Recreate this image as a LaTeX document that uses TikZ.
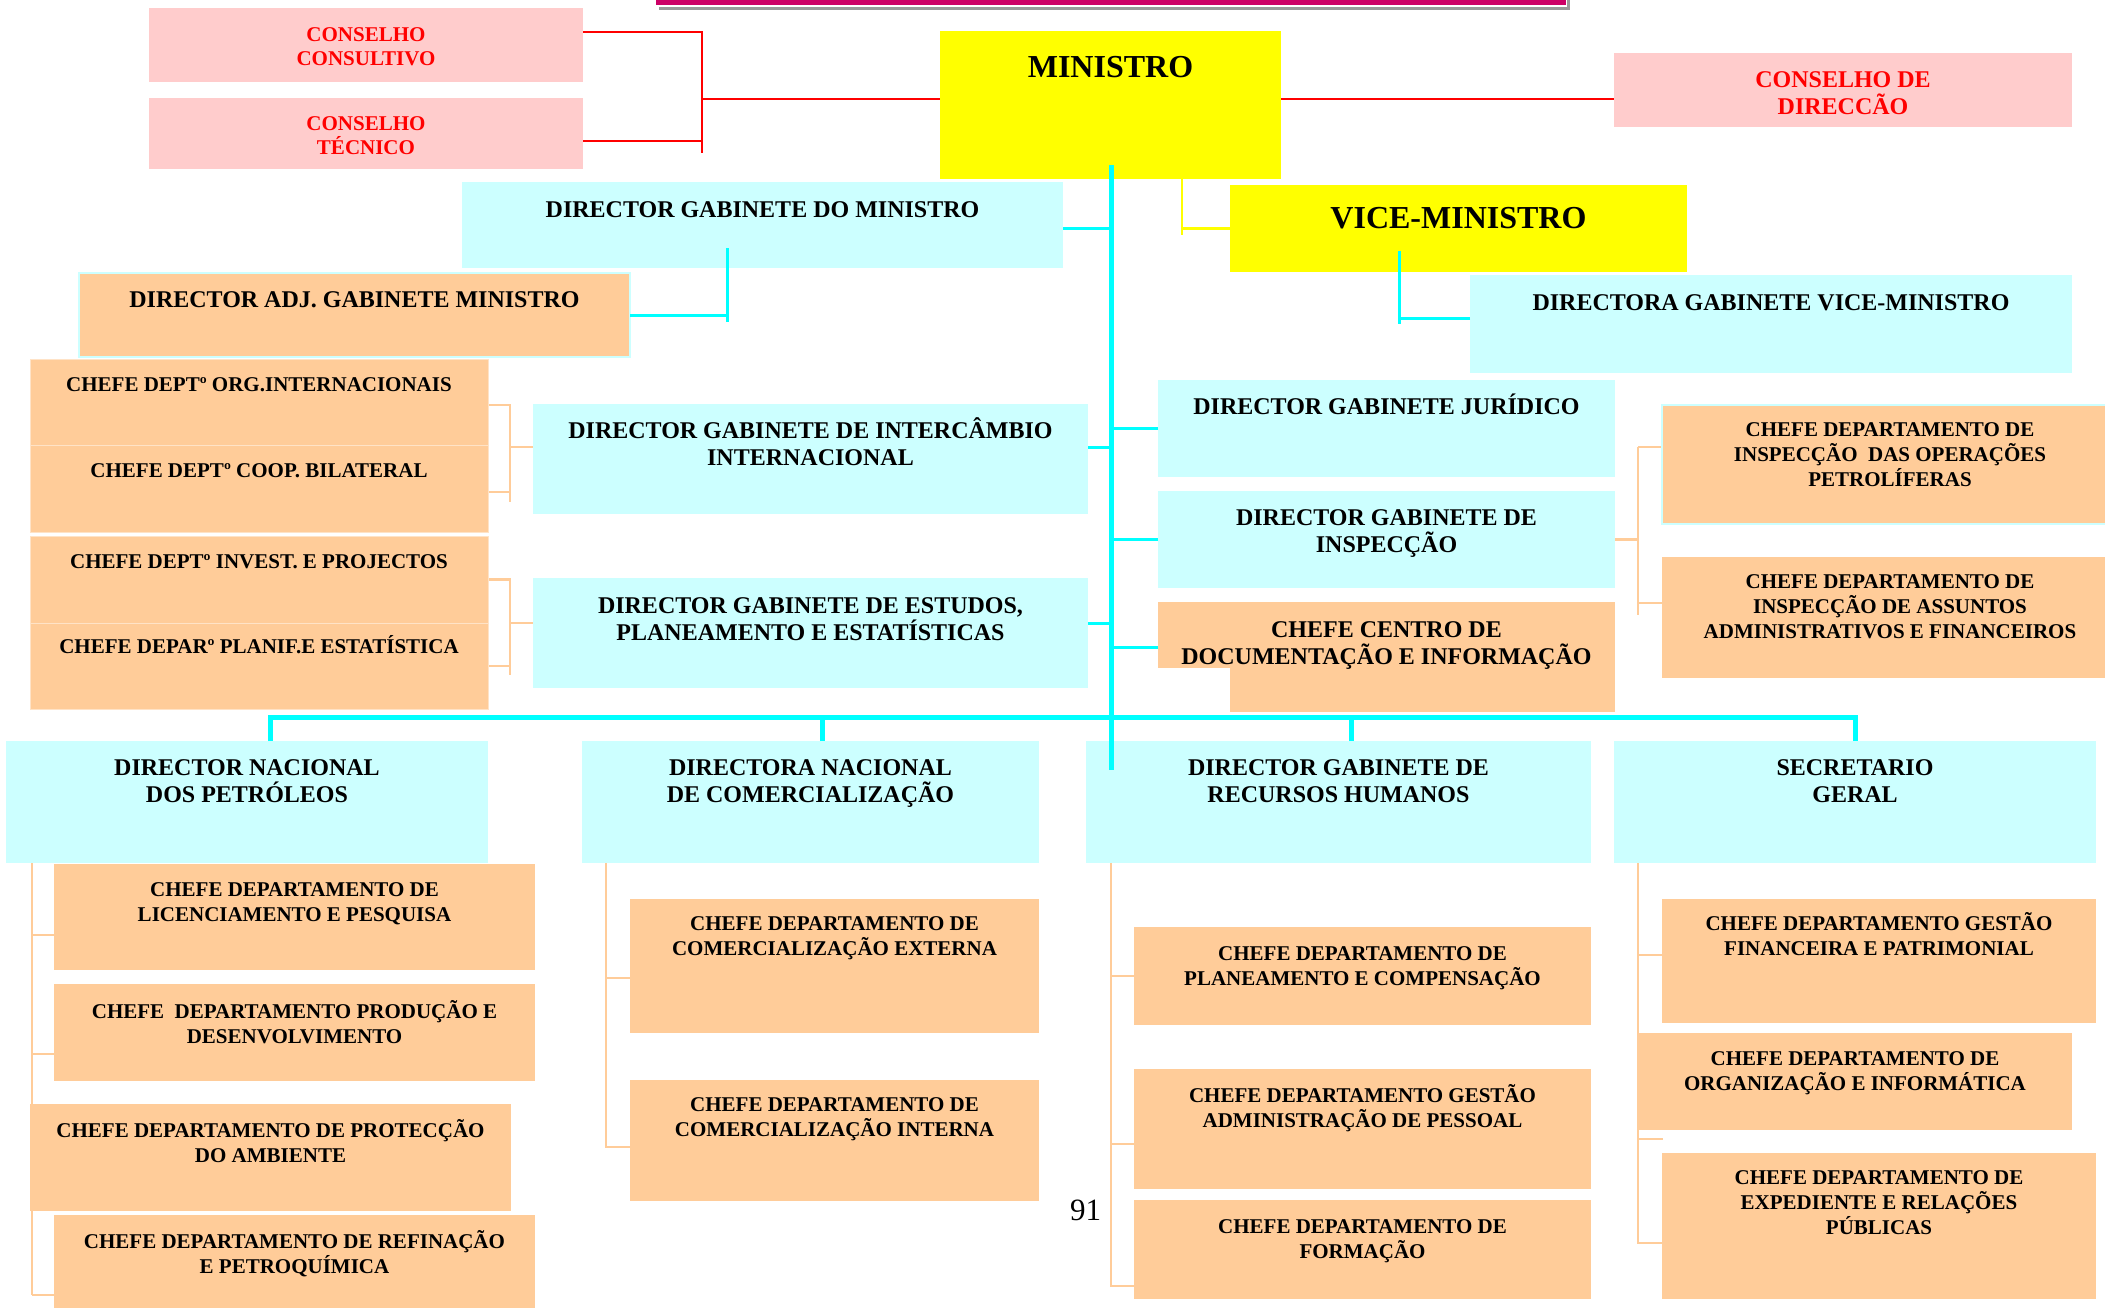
\documentclass[tikz,border=0pt]{standalone}
\usepackage{fontspec}
\setmainfont{Liberation Serif}
\pgfdeclarelayer{bg}
\pgfsetlayers{bg,main}
\definecolor{boxcyan}{HTML}{CCFFFF}
\definecolor{boxorange}{HTML}{FFCC99}
\definecolor{boxpink}{HTML}{FFCCCC}
\definecolor{boxyellow}{HTML}{FFFF00}
\definecolor{textred}{HTML}{FF0000}
\definecolor{linecyan}{HTML}{00FFFF}
\definecolor{barmag}{HTML}{CC0066}
\definecolor{shadowgrey}{HTML}{999999}
\newcommand\bt[4]{\parbox[t][#2pt][t]{#1pt}{\centering\rule{0pt}{#3pt}#4\par}}
\begin{document}
\begin{tikzpicture}[x=1pt,y=-1pt,
  bxbase/.style={anchor=north west, inner sep=0pt, outer sep=0pt},
  cbox/.style={bxbase, fill=boxcyan, font=\fontsize{24}{27.5}\selectfont\bfseries},
  obox/.style={bxbase, fill=boxorange, font=\fontsize{21}{25}\selectfont\bfseries},
  obig/.style={bxbase, fill=boxorange, font=\fontsize{24}{27.5}\selectfont\bfseries},
  pbox/.style={bxbase, fill=boxpink, text=textred, font=\fontsize{21}{24}\selectfont\bfseries},
  pbig/.style={bxbase, fill=boxpink, text=textred, font=\fontsize{24}{27}\selectfont\bfseries},
  ybox/.style={bxbase, fill=boxyellow, font=\fontsize{32}{36}\selectfont\bfseries},
  sep/.style={draw=white!45!boxorange, line width=1pt},
  cline/.style={draw=linecyan, line width=3pt},
  trunk/.style={draw=linecyan, line width=5pt},
  oline/.style={draw=boxorange, line width=2.5pt},
  rline/.style={draw=textred, line width=2.5pt},
  yline/.style={draw=boxyellow, line width=2.5pt}]
\useasboundingbox (0,0) rectangle (2105,1307);
\clip (0,0) rectangle (2105,1307);
% top bar
\fill[shadowgrey] (659,6.5) rectangle (1570,9.5);
\fill[shadowgrey] (1567,-5) rectangle (1570,9.5);
\fill[barmag] (656,-5) rectangle (1566,5);

% boxes
\node[pbox] (cc) at (149,8) {\bt{434}{74}{33}{CONSELHO\\CONSULTIVO}};
\node[pbox] (ct) at (149,98) {\bt{434}{71}{32}{CONSELHO\\TÉCNICO}};
\node[pbig] (cd) at (1614,53) {\bt{458}{74}{34}{CONSELHO DE\\DIRECCÃO}};
\node[ybox] (min) at (940,31) {\bt{341}{148}{46}{MINISTRO}};
\node[ybox] (vm) at (1230,185) {\bt{457}{87}{43}{VICE-MINISTRO}};
\node[cbox] (dgm) at (462,182) {\bt{601}{86}{35}{DIRECTOR GABINETE DO MINISTRO}};
\node[obig, draw=boxcyan, line width=1.5pt] (adj) at (79,273) {\bt{551}{84}{34}{DIRECTOR ADJ. GABINETE MINISTRO}};
\node[cbox] (dvm) at (1470,275) {\bt{602}{98}{35}{DIRECTORA GABINETE VICE-MINISTRO}};
\node[obox, sep] (org) at (30,359) {\bt{458}{86}{32}{CHEFE DEPTº ORG.INTERNACIONAIS}};
\node[obox, sep] (coop) at (30,445) {\bt{458}{87}{32}{CHEFE DEPTº COOP. BILATERAL}};
\node[obox, sep] (invest) at (30,536) {\bt{458}{87}{32}{CHEFE DEPTº INVEST. E PROJECTOS}};
\node[obox, sep] (planif) at (30,623) {\bt{458}{86}{30}{CHEFE DEPARº PLANIF.E ESTATÍSTICA}};
\node[cbox] (inter) at (533,404) {\bt{555}{110}{34}{DIRECTOR GABINETE DE INTERCÂMBIO\\INTERNACIONAL}};
\node[cbox] (estudos) at (533,578) {\bt{555}{110}{35}{DIRECTOR GABINETE DE ESTUDOS,\\PLANEAMENTO E ESTATÍSTICAS}};
\node[cbox] (jur) at (1158,380) {\bt{457}{97}{34}{DIRECTOR GABINETE JURÍDICO}};
\node[cbox] (insp) at (1158,491) {\bt{457}{97}{34}{DIRECTOR GABINETE DE\\INSPECÇÃO}};
\node[obig] (centro) at (1158,602) {\bt{457}{110}{35}{CHEFE CENTRO DE\\DOCUMENTAÇÃO E INFORMAÇÃO}};
\node[obox, draw=boxcyan, line width=1.5pt] (ops) at (1662,405) {\bt{456}{119}{31}{CHEFE DEPARTAMENTO DE\\INSPECÇÃO\ \ DAS OPERAÇÕES\\PETROLÍFERAS}};
\node[obox] (assun) at (1662,557) {\bt{456}{121}{31}{CHEFE DEPARTAMENTO DE\\INSPECÇÃO DE ASSUNTOS\\ADMINISTRATIVOS E FINANCEIROS}};
\node[cbox] (dnp) at (6,741) {\bt{482}{122}{34}{DIRECTOR NACIONAL\\DOS PETRÓLEOS}};
\node[cbox] (dnc) at (582,741) {\bt{457}{122}{34}{DIRECTORA NACIONAL\\DE COMERCIALIZAÇÃO}};
\node[cbox] (drh) at (1086,741) {\bt{505}{122}{34}{DIRECTOR GABINETE DE\\RECURSOS HUMANOS}};
\node[cbox] (sg) at (1614,741) {\bt{482}{122}{34}{SECRETARIO\\GERAL}};
\node[obox] (lic) at (54,864) {\bt{481}{106}{32}{CHEFE DEPARTAMENTO DE\\LICENCIAMENTO E PESQUISA}};
\node[obox] (prod) at (54,984) {\bt{481}{97}{34}{CHEFE\ \ DEPARTAMENTO PRODUÇÃO E\\DESENVOLVIMENTO}};
\node[obox] (prot) at (30,1104) {\bt{481}{107}{33}{CHEFE DEPARTAMENTO DE PROTECÇÃO\\DO AMBIENTE}};
\node[obox] (ref) at (54,1215) {\bt{481}{100}{33}{CHEFE DEPARTAMENTO DE REFINAÇÃO\\E PETROQUÍMICA}};
\node[obox] (cext) at (630,899) {\bt{409}{134}{31}{CHEFE DEPARTAMENTO DE\\COMERCIALIZAÇÃO EXTERNA}};
\node[obox] (cint) at (630,1080) {\bt{409}{121}{31}{CHEFE DEPARTAMENTO DE\\COMERCIALIZAÇÃO INTERNA}};
\node[obox] (plan) at (1134,927) {\bt{457}{98}{33}{CHEFE DEPARTAMENTO DE\\PLANEAMENTO E COMPENSAÇÃO}};
\node[obox] (pess) at (1134,1069) {\bt{457}{120}{33}{CHEFE DEPARTAMENTO GESTÃO\\ADMINISTRAÇÃO DE PESSOAL}};
\node[obox] (form) at (1134,1200) {\bt{457}{99}{33}{CHEFE DEPARTAMENTO DE\\FORMAÇÃO}};
\node[obox] (fin) at (1662,899) {\bt{434}{124}{31}{CHEFE DEPARTAMENTO GESTÃO\\FINANCEIRA E PATRIMONIAL}};
\node[obox] (oi) at (1638,1033) {\bt{434}{97}{32}{CHEFE DEPARTAMENTO DE\\ORGANIZAÇÃO E INFORMÁTICA}};
\node[obox] (exp) at (1662,1153) {\bt{434}{146}{31}{CHEFE DEPARTAMENTO DE\\EXPEDIENTE E RELAÇÕES\\PÚBLICAS}};

% background connectors
\begin{pgfonlayer}{bg}
\coordinate (rj) at (702,32); \coordinate (rk) at (702,153);
\draw[rline] ([yshift=13pt]cc.east) -- (rj) -- (rk);
\draw[rline] ([yshift=-7.5pt]ct.east) -- ([yshift=-7.5pt]ct.east -| rj);
\draw[rline] ([yshift=6pt]min.west) -- ([yshift=6pt]min.west -| rj);
\draw[rline] ([yshift=6pt]min.east) -- ([yshift=6pt]min.east -| cd.west);
\draw[yline] ([xshift=71.5pt]min.south) -- ([xshift=71.5pt,yshift=-56pt]min.south);
\draw[yline] ([xshift=71.5pt]min.south |- vm.west) -- (vm.west);
% intercambio group
\coordinate (ia) at (510,404); \coordinate (ib) at (510,502);
\draw[oline] (ia) -- (ib);
\draw[oline] ([yshift=-3pt]org.east) -- ([yshift=-3pt]org.east -| ia);
\draw[oline] ([yshift=-3.5pt]coop.east) -- ([yshift=-3.5pt]coop.east -| ia);
\draw[oline] ([yshift=12pt]inter.west) -- ([yshift=12pt]inter.west -| ia);
% estudos group
\coordinate (ea) at (510,578); \coordinate (eb) at (510,675);
\draw[oline] (ea) -- (eb);
\draw[oline] (invest.east) -- (invest.east -| ea);
\draw[oline] (planif.east) -- (planif.east -| ea);
\draw[oline] ([yshift=10pt]estudos.west) -- ([yshift=10pt]estudos.west -| ea);
% inspeccao group
\coordinate (sa) at (1638,447); \coordinate (sb) at (1638,615);
\draw[oline] (sa) -- (sb);
\draw[oline] (insp.east) -- (insp.east -| sa);
\draw[oline] ([yshift=17.5pt]ops.west) -- ([yshift=17.5pt]ops.west -| sa);
\draw[oline] ([yshift=14.5pt]assun.west) -- ([yshift=14.5pt]assun.west -| sa);
% DNP group
\coordinate (pa) at (32,859); \coordinate (pb) at (32,1295);
\draw[oline] (pa) -- (pb);
\draw[oline] ([yshift=-18pt]lic.west) -- ([yshift=-18pt]lic.west -| pa);
\draw[oline] ([yshift=-21.5pt]prod.west) -- ([yshift=-21.5pt]prod.west -| pa);
\draw[oline] ([yshift=-30pt]ref.west) -- ([yshift=-30pt]ref.west -| pa);
% DNC group
\coordinate (na) at (606,859); \coordinate (nb) at (606,1148);
\draw[oline] (na) -- (nb);
\draw[oline] ([yshift=-12pt]cext.west) -- ([yshift=-12pt]cext.west -| na);
\draw[oline] ([yshift=-6.5pt]cint.west) -- ([yshift=-6.5pt]cint.west -| na);
% DRH group
\coordinate (ha) at (1111,859); \coordinate (hb) at (1111,1287);
\draw[oline] (ha) -- (hb);
\draw[oline] (plan.west) -- (plan.west -| ha);
\draw[oline] ([yshift=-15pt]pess.west) -- ([yshift=-15pt]pess.west -| ha);
\draw[oline] ([yshift=-36.5pt]form.west) -- ([yshift=-36.5pt]form.west -| ha);
% SG group
\coordinate (ga) at (1638,859); \coordinate (gb) at (1638,1244);
\draw[oline] (ga) -- (gb);
\draw[oline] ([yshift=6pt]fin.west) -- ([yshift=6pt]fin.west -| ga);
\draw[oline] ([yshift=-9pt]oi.south west) -- ++(25,0);
\draw[oline] ([yshift=-17pt]exp.west) -- ([yshift=-17pt]exp.west -| ga);
\end{pgfonlayer}

% white patch
\fill[white] (1158,668) rectangle (1230,717);

% cyan connectors
\coordinate (ttop) at (1111,165); \coordinate (tbot) at (1111,770);
\coordinate (bl) at (270,717); \coordinate (br) at (1855,717);
\draw[cline] ([yshift=-3pt]dgm.east) -- ([yshift=-3pt]dgm.east -| ttop);
\draw[cline] ([yshift=12pt]inter.east) -- ([yshift=12pt]inter.east -| ttop);
\draw[cline] ([yshift=10pt]estudos.east) -- ([yshift=10pt]estudos.east -| ttop);
\draw[cline] (jur.west) -- (jur.west -| ttop);
\draw[cline] (insp.west) -- (insp.west -| ttop);
\draw[cline] ([yshift=10pt]centro.west) -- ([yshift=10pt]centro.west -| ttop);
\coordinate (da) at (727,248); \coordinate (db) at (727,322);
\draw[cline] (da) -- (db);
\draw[cline] (adj.east) -- (adj.east -| da);
\coordinate (va) at (1399,251); \coordinate (vb) at (1399,324);
\draw[cline] (va) -- (vb);
\draw[cline] ([yshift=6pt]dvm.west) -- ([yshift=6pt]dvm.west -| va);
\draw[trunk] (ttop) -- (tbot);
\draw[trunk, line cap=rect] (bl) -- (br);
\draw[trunk] ([xshift=23pt]dnp.north) -- ([xshift=23pt]dnp.north |- bl);
\draw[trunk] ([xshift=11.5pt]dnc.north) -- ([xshift=11.5pt]dnc.north |- bl);
\draw[trunk] ([xshift=12.5pt]drh.north) -- ([xshift=12.5pt]drh.north |- bl);
\draw[trunk] (sg.north) -- (sg.north |- bl);

% page number
\node[anchor=base west, inner sep=0pt, font=\fontsize{31}{31}\selectfont] (pg) at (1070,1220) {91};
\end{tikzpicture}
\end{document}
